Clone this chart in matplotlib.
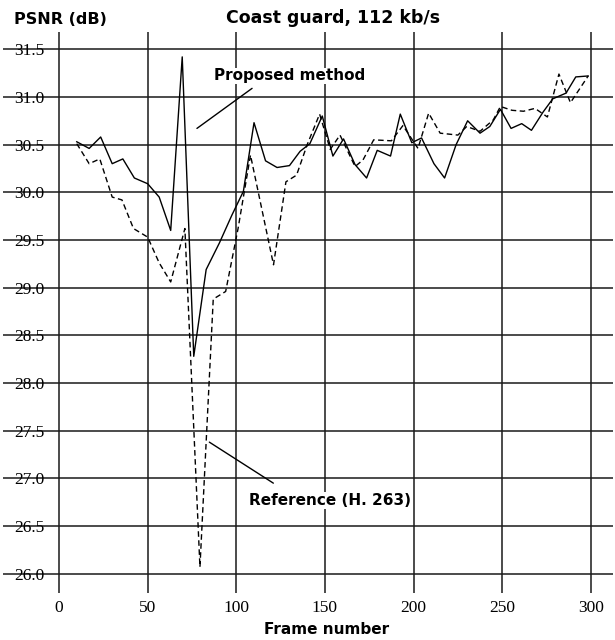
import matplotlib
matplotlib.use("Agg")
import matplotlib.pyplot as plt

# ---- data ----
frames_prop = [10, 17, 23.5, 30, 36, 42.5, 50, 56.5, 63, 69.5, 76, 83, 90.5, 97.5, 104, 110,
               116.5, 123, 130, 136, 141.5, 148.5, 154.5, 160.5, 167, 173.5, 179.5, 187, 192.5,
               199, 204.5, 211.5, 217.5, 224, 230.5, 237.5, 243, 249, 255, 261, 266.5, 273,
               278.5, 286, 291.5, 298.5]
psnr_prop = [30.53, 30.46, 30.58, 30.30, 30.35, 30.15, 30.09, 29.95, 29.60, 31.42, 28.28, 29.19,
             29.47, 29.76, 30.01, 30.73, 30.33, 30.26, 30.28, 30.43, 30.51, 30.80, 30.38, 30.56,
             30.29, 30.15, 30.44, 30.38, 30.82, 30.52, 30.57, 30.30, 30.15, 30.50, 30.75, 30.62,
             30.69, 30.87, 30.67, 30.72, 30.65, 30.84, 30.98, 31.04, 31.21, 31.22]

frames_ref = [10, 17, 23, 30, 35.5, 42, 50, 56.5, 63, 71, 79.5, 87, 94, 101, 108, 121, 128, 134,
              140, 147, 153, 158.5, 167, 171.5, 177.5, 187.5, 194, 202.5, 208.5, 215, 225, 230,
              237.5, 245, 249, 255.5, 262, 268.5, 275.5, 282, 288.5, 298.5]
psnr_ref = [30.51, 30.30, 30.35, 29.95, 29.92, 29.62, 29.53, 29.26, 29.06, 29.62, 26.07, 28.88,
            28.96, 29.62, 30.39, 29.24, 30.11, 30.18, 30.50, 30.82, 30.45, 30.60, 30.27, 30.34,
            30.55, 30.54, 30.70, 30.46, 30.83, 30.62, 30.60, 30.69, 30.64, 30.76, 30.90, 30.86,
            30.85, 30.88, 30.79, 31.24, 30.94, 31.22]

xticks = [0, 50, 100, 150, 200, 250, 300]
yticks = [26.0, 26.5, 27.0, 27.5, 28.0, 28.5, 29.0, 29.5, 30.0, 30.5, 31.0, 31.5]

title = "Coast guard, 112 kb/s"
ylabel = "PSNR (dB)"
xlabel = "Frame number"
label_prop = "Proposed method"
label_ref = "Reference (H. 263)"

# ---- figure ----
W, H = 615, 640
fig = plt.figure(figsize=(W / 100, H / 100), dpi=100)
ax = fig.add_axes([3 / W, (H - 593) / H, 610 / W, 561 / H])
ax.set_xlim(-31.6, 312.5)
ax.set_ylim(25.798, 31.681)
for s in ax.spines.values():
    s.set_visible(False)

ax.set_xticks(xticks)
ax.set_yticks(yticks)
ax.set_xticklabels([str(v) for v in xticks])
ax.set_yticklabels([f"{v:.1f}" for v in yticks])
ax.grid(True, color="#1a1a1a", linewidth=1.1)
ax.set_axisbelow(True)
ax.tick_params(axis="both", length=0, labelsize=12.5)
ax.tick_params(axis="y", pad=-30)
ax.tick_params(axis="x", pad=5)
for lab in ax.get_xticklabels() + ax.get_yticklabels():
    lab.set_family("Liberation Serif")
for lab in ax.get_yticklabels():
    lab.set_horizontalalignment("right")

ax.plot(frames_prop, psnr_prop, color="black", linewidth=1.0, zorder=3)
ax.plot(frames_ref, psnr_ref, color="black", linewidth=1.0, linestyle=(0, (4, 2.5)), zorder=3)

bold = dict(family="DejaVu Sans", weight="bold")

# annotations
ax.annotate("", xy=(77.8, 30.67), xytext=(108.9, 31.09),
            arrowprops=dict(arrowstyle="-", color="black", lw=1.0, shrinkA=0, shrinkB=0))
ax.text(130, 31.22, label_prop, ha="center", va="center", fontsize=11, zorder=4,
        bbox=dict(facecolor="white", edgecolor="none", pad=0.5), **bold)
ax.annotate("", xy=(84.8, 27.38), xytext=(120.9, 26.95),
            arrowprops=dict(arrowstyle="-", color="black", lw=1.0, shrinkA=0, shrinkB=0))
ax.text(152.8, 26.77, label_ref, ha="center", va="center", fontsize=11, zorder=4,
        bbox=dict(facecolor="white", edgecolor="none", pad=0.5), **bold)

fig.text(333 / W, 1 - 18 / H, title, ha="center", va="center", fontsize=12.5, **bold)
fig.text(14 / W, 1 - 20 / H, ylabel, ha="left", va="center", fontsize=11.5, **bold)
fig.text(327 / W, 1 - 630 / H, xlabel, ha="center", va="center", fontsize=11, **bold)

fig.savefig("out.png", dpi=100)
